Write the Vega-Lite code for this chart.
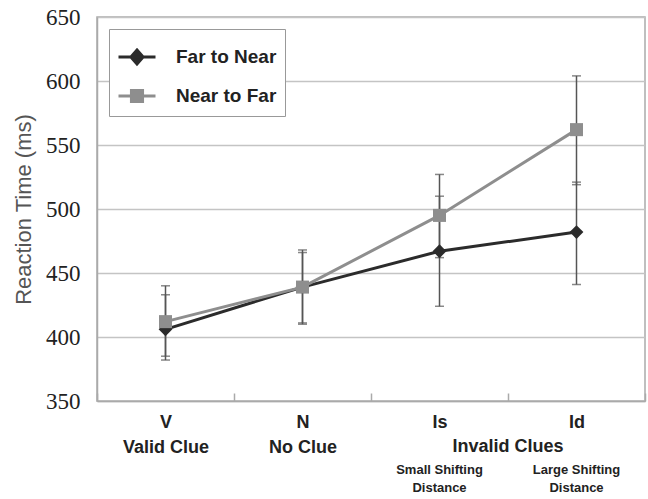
{
  "$schema": "https://vega.github.io/schema/vega-lite/v6.json",
  "width": 548,
  "height": 384,
  "autosize": {"type": "none"},
  "padding": {"left": 97, "top": 17, "right": 3, "bottom": 98},
  "background": "white",
  "config": {
    "view": {"stroke": "#aaaaaa", "strokeWidth": 1.5},
    "font": "Liberation Sans"
  },
  "datasets": {
    "rt": [
      {"cat": "V", "series": "Far to Near", "mean": 406, "lo": 382, "hi": 433},
      {"cat": "N", "series": "Far to Near", "mean": 439, "lo": 411, "hi": 466},
      {"cat": "Is", "series": "Far to Near", "mean": 467, "lo": 424, "hi": 510},
      {"cat": "Id", "series": "Far to Near", "mean": 482, "lo": 441, "hi": 521},
      {"cat": "V", "series": "Near to Far", "mean": 412, "lo": 385, "hi": 440},
      {"cat": "N", "series": "Near to Far", "mean": 439, "lo": 410, "hi": 468},
      {"cat": "Is", "series": "Near to Far", "mean": 495, "lo": 462, "hi": 527},
      {"cat": "Id", "series": "Near to Far", "mean": 562, "lo": 519, "hi": 604}
    ],
    "group": [
      {"cat": "Id", "text": "Invalid Clues"}
    ],
    "notes": [
      {"cat": "Is", "text": "Small Shifting\nDistance"},
      {"cat": "Id", "text": "Large Shifting\nDistance"}
    ]
  },
  "layer": [
    {
      "data": {"name": "rt"},
      "mark": {"type": "line", "strokeWidth": 3},
      "encoding": {
        "x": {
          "field": "cat",
          "type": "nominal",
          "sort": ["V", "N", "Is", "Id"],
          "scale": {"type": "band", "paddingInner": 0, "paddingOuter": 0},
          "axis": {
            "title": null,
            "labelAngle": 0,
            "labelFont": "Liberation Sans",
            "labelFontSize": 18,
            "labelFontWeight": "bold",
            "labelColor": "#222222",
            "labelLineHeight": 25,
            "labelPadding": 20,
            "labelExpr": "datum.value == 'V' ? ['V', 'Valid Clue'] : datum.value == 'N' ? ['N', 'No Clue'] : datum.value",
            "tickBand": "extent",
            "tickSize": -8,
            "tickWidth": 1.5,
            "tickColor": "#aaaaaa",
            "domainColor": "#aaaaaa",
            "domainWidth": 1.5,
            "grid": false
          }
        },
        "y": {
          "field": "mean",
          "type": "quantitative",
          "title": "Reaction Time (ms)",
          "scale": {"domain": [350, 650], "nice": false, "zero": false},
          "axis": {
            "titleFont": "Liberation Sans",
            "titleFontSize": 22,
            "titleFontWeight": "normal",
            "titleColor": "#555555",
            "titlePadding": 10,
            "values": [350, 400, 450, 500, 550, 600, 650],
            "labelFont": "Liberation Sans Narrow",
            "labelFontSize": 23,
            "labelColor": "#222222",
            "labelPadding": 17,
            "ticks": false,
            "grid": true,
            "gridColor": "#c4c4c4",
            "gridWidth": 1.5,
            "domainColor": "#aaaaaa",
            "domainWidth": 1.5
          }
        },
        "stroke": {
          "field": "series",
          "type": "nominal",
          "scale": {"domain": ["Far to Near", "Near to Far"], "range": ["#2b2b2b", "#8e8e8e"]},
          "legend": {
            "title": null,
            "orient": "top-left",
            "offset": 12,
            "padding": 8,
            "fillColor": "white",
            "strokeColor": "#999999",
            "labelFont": "Liberation Sans",
            "labelFontSize": 19,
            "labelFontWeight": "bold",
            "labelColor": "#222222",
            "labelOffset": 19,
            "symbolSize": 1369,
            "symbolStrokeWidth": 3,
            "rowPadding": 5
          }
        }
      }
    },
    {
      "data": {"name": "rt"},
      "mark": {"type": "errorbar", "ticks": {"size": 9}, "color": "#555555", "thickness": 1.5},
      "encoding": {
        "x": {"field": "cat", "type": "nominal", "sort": ["V", "N", "Is", "Id"]},
        "y": {"field": "lo", "type": "quantitative", "title": "Reaction Time (ms)"},
        "y2": {"field": "hi"}
      }
    },
    {
      "data": {"name": "rt"},
      "transform": [{"filter": "datum.series == 'Far to Near'"}],
      "mark": {"type": "point", "shape": "diamond", "filled": true, "fill": "#2b2b2b", "opacity": 1, "size": 190},
      "encoding": {
        "x": {"field": "cat", "type": "nominal", "sort": ["V", "N", "Is", "Id"]},
        "y": {"field": "mean", "type": "quantitative", "title": "Reaction Time (ms)"}
      }
    },
    {
      "data": {"name": "rt"},
      "transform": [{"filter": "datum.series == 'Near to Far'"}],
      "mark": {"type": "point", "shape": "square", "filled": true, "fill": "#8e8e8e", "opacity": 1, "size": 170},
      "encoding": {
        "x": {"field": "cat", "type": "nominal", "sort": ["V", "N", "Is", "Id"]},
        "y": {"field": "mean", "type": "quantitative", "title": "Reaction Time (ms)"}
      }
    },
    {
      "data": {"name": "rt"},
      "mark": {"type": "point", "filled": true, "opacity": 1, "size": 0, "strokeWidth": 3},
      "encoding": {
        "x": {"field": "cat", "type": "nominal", "sort": ["V", "N", "Is", "Id"]},
        "y": {"field": "mean", "type": "quantitative", "title": "Reaction Time (ms)"},
        "fill": {"field": "series", "type": "nominal", "scale": {"domain": ["Far to Near", "Near to Far"], "range": ["#2b2b2b", "#8e8e8e"]}},
        "stroke": {"field": "series", "type": "nominal"},
        "shape": {"field": "series", "type": "nominal", "scale": {"domain": ["Far to Near", "Near to Far"], "range": ["M-1,0H1M0,-0.38L0.33,0L0,0.38L-0.33,0Z", "M-1,0H1M-0.3,-0.3H0.3V0.3H-0.3Z"]}}
      }
    },
    {
      "data": {"name": "group"},
      "mark": {"type": "text", "font": "Liberation Sans", "fontSize": 18, "fontWeight": "bold", "color": "#222222", "baseline": "middle", "dy": 46},
      "encoding": {
        "x": {"field": "cat", "type": "nominal", "sort": ["V", "N", "Is", "Id"], "bandPosition": 0},
        "y": {"datum": 350, "type": "quantitative"},
        "text": {"field": "text", "type": "nominal"}
      }
    },
    {
      "data": {"name": "notes"},
      "mark": {"type": "text", "font": "Liberation Sans", "fontSize": 13, "fontWeight": "bold", "color": "#222222", "baseline": "top", "lineBreak": "\n", "lineHeight": 18, "dy": 63},
      "encoding": {
        "x": {"field": "cat", "type": "nominal", "sort": ["V", "N", "Is", "Id"]},
        "y": {"datum": 350, "type": "quantitative"},
        "text": {"field": "text", "type": "nominal"}
      }
    }
  ]
}
